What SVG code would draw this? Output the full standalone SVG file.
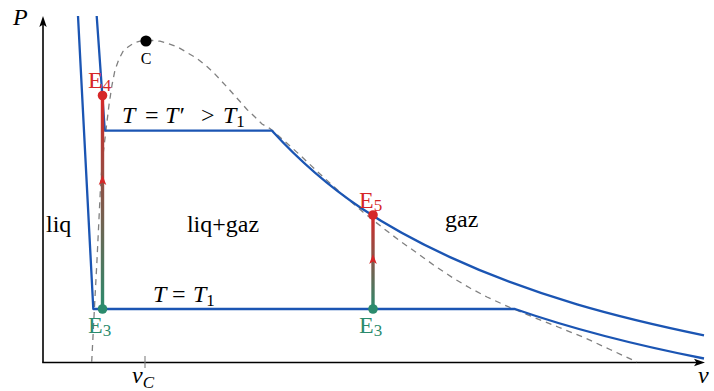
<svg xmlns="http://www.w3.org/2000/svg" width="714" height="391" viewBox="0 0 714 391">
<style>
text{font-family:"Liberation Serif","Times New Roman",Times,"DejaVu Serif","Noto Serif",serif;font-size:24px;fill:#000}
.it{font-style:italic}
.sub{font-size:17px}
.iso{fill:none;stroke:#1b55b3;stroke-width:2.3;stroke-linejoin:round}
.dome{fill:none;stroke:#808080;stroke-width:1.3;stroke-dasharray:6 5}
.axis{fill:none;stroke:#000;stroke-width:1.6}
.red{fill:#d62728}
.green{fill:#2b8b6d}
</style>
<defs>
<linearGradient id="g1" gradientUnits="userSpaceOnUse" x1="0" y1="309" x2="0" y2="95.5">
<stop offset="0" stop-color="#2b8b6d"/><stop offset="1" stop-color="#d62728"/>
</linearGradient>
<linearGradient id="g2" gradientUnits="userSpaceOnUse" x1="0" y1="309" x2="0" y2="215">
<stop offset="0" stop-color="#2b8b6d"/><stop offset="1" stop-color="#d62728"/>
</linearGradient>
</defs>

<g id="axes">
<path class="axis" d="M43 362.5 V22"/>
<path d="M43 16 L39.3 27 L43 24.5 L46.7 27 Z" fill="#000"/>
<path class="axis" d="M42.2 362.5 H699"/>
<path d="M705 362.5 L694 358.8 L696.5 362.5 L694 366.2 Z" fill="#000"/>
<path d="M145 356 V368" stroke="#808080" stroke-width="1.1"/>
<text class="it" x="13" y="25">P</text>
<text class="it" x="698" y="383">v</text>
<text x="132" y="383"><tspan class="it">v</tspan><tspan class="it sub" dy="5">C</tspan></text>
</g>

<g id="dome">
<path class="dome" d="M91.7 362 L94.4 309 L97 260 L100.7 183 L103 155 L106 130 L109 105 L112 85 L115 70 L119 59 L123 51.5 L128 47 L134 43 L140 41.2 L146 40.5 L153 40.5 L160 41.2 L168 43.5 L177 46.7 L187 52.5 L197 58.5 L207 66.5 L213 72 L220 79.5 L227 87 L235 96 L240 101.5 L247 109.5 L255 117 L262 124 L270 128.5 L285 141.5 L300 155 L320 174 L343 195 L363 212 L383 228 L400 241 L417 253 L435 266 L453 278 L470 288 L487 297 L510 307.5 L533 317 L558 327 L583 337 L610 349.5 L637 362"/>
</g>

<g id="isotherm-T1">
<path class="iso" d="M78 16 L93.3 309 H515 C578 330.9 641 346.1 704 358.5"/>
<text x="153" y="302"><tspan class="it">T</tspan><tspan x="172">=</tspan><tspan class="it" x="193">T</tspan><tspan class="sub" dy="4">1</tspan></text>
</g>

<g id="isotherm-Tp">
<path class="iso" d="M96.7 16 L104.8 130.7 H272 C331.3 195.6 390.7 229.7 450 257.1 C534.7 296.2 619.3 317.9 704 335.3"/>
<text x="122" y="123"><tspan class="it">T</tspan><tspan x="145">=</tspan><tspan class="it" x="165">T′</tspan><tspan x="201">&gt;</tspan><tspan class="it" x="223">T</tspan><tspan class="sub" dy="4">1</tspan></text>
</g>

<g id="critical-point">
<circle cx="146" cy="41" r="5.6" fill="#000"/>
<text x="146" y="64" text-anchor="middle" style="font-size:16px">C</text>
</g>

<g id="regions">
<text x="46" y="232">liq</text>
<text x="223" y="232" text-anchor="middle">liq+gaz</text>
<text x="445" y="227">gaz</text>
</g>

<g id="connectors">
<path d="M102.5 309 V95.5" stroke="url(#g1)" stroke-width="3.4" fill="none"/>
<path class="red" d="M102.5 175 L98.7 185 L102.5 182.5 L106.3 185 Z"/>
<path d="M373 309 V215" stroke="url(#g2)" stroke-width="3.4" fill="none"/>
<path class="red" d="M373 254 L369.2 264 L373 261.5 L376.8 264 Z"/>
</g>

<g id="E3a">
<circle class="green" cx="102.5" cy="309" r="4.8"/>
<text class="green" x="88" y="333">E<tspan class="sub" dy="3">3</tspan></text>
</g>
<g id="E4">
<circle class="red" cx="102.5" cy="95.5" r="4.8"/>
<text class="red" x="88" y="88">E<tspan class="sub" dy="3">4</tspan></text>
</g>
<g id="E3b">
<circle class="green" cx="373" cy="309" r="4.8"/>
<text class="green" x="359" y="333">E<tspan class="sub" dy="3">3</tspan></text>
</g>
<g id="E5">
<circle class="red" cx="373" cy="215" r="4.8"/>
<text class="red" x="359" y="208">E<tspan class="sub" dy="3">5</tspan></text>
</g>
</svg>
